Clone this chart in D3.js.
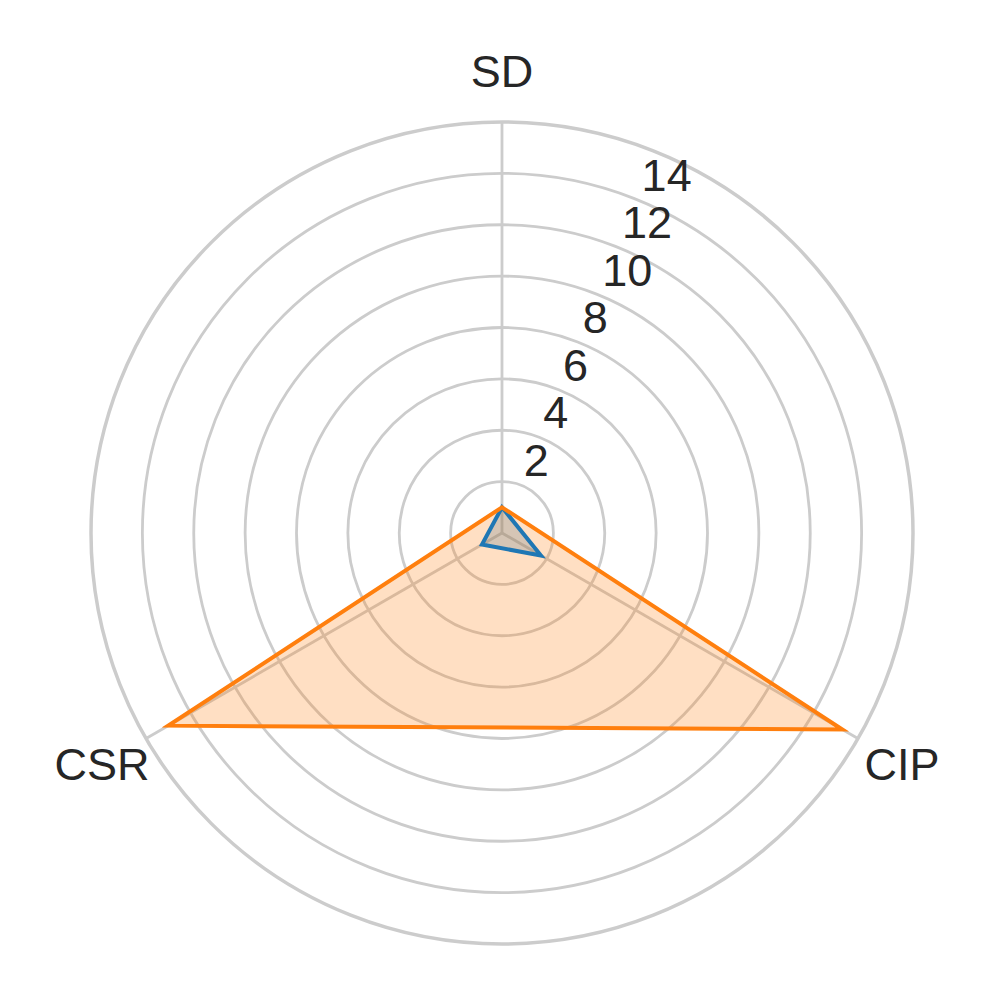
<!DOCTYPE html>
<html>
<head>
<meta charset="utf-8">
<script src="https://cdn.jsdelivr.net/npm/d3@7"></script>
<style>
  html, body { margin: 0; padding: 0; background: #fff; }
  svg { display: block; }
  text { font-family: "Liberation Sans", Arial, sans-serif; fill: #262626; }
</style>
</head>
<body>
<svg id="chart" width="996" height="996"></svg>
<script>
// radar chart: three axes, two series
const categories = ['SD', 'CIP', 'CSR'];
const seriesBlue = [1.0, 1.75, 0.9];
const seriesOrange = [1.0, 15.3, 15.0];
const ringTicks = [2, 4, 6, 8, 10, 12, 14];
const rMax = 16;

const cx = 502, cy = 533;
const outerR = 411;

const svg = d3.select('#chart');
const g = svg.append('g').attr('transform', `translate(${cx},${cy})`);

const r = d3.scaleLinear().domain([0, rMax]).range([0, outerR]);
// angle clockwise from 12 o'clock, like d3.lineRadial
const angleOf = (c) => categories.indexOf(c) * 2 * Math.PI / categories.length;

// rings
g.selectAll('.ring')
  .data(ringTicks)
  .join('circle')
  .attr('class', 'ring')
  .attr('r', (d) => r(d))
  .attr('fill', 'none')
  .attr('stroke', '#cccccc')
  .attr('stroke-width', 2.8);

// spokes
g.selectAll('.spoke')
  .data(categories)
  .join('line')
  .attr('class', 'spoke')
  .attr('x1', 0).attr('y1', 0)
  .attr('x2', (d) => r(rMax) * Math.sin(angleOf(d)))
  .attr('y2', (d) => -r(rMax) * Math.cos(angleOf(d)))
  .attr('stroke', '#cccccc')
  .attr('stroke-width', 2.8);

// outer frame
g.append('circle')
  .attr('r', r(rMax))
  .attr('fill', 'none')
  .attr('stroke', '#cccccc')
  .attr('stroke-width', 3.5);

// series
const line = d3.lineRadial()
  .angle((d, i) => angleOf(categories[i]))
  .radius((d) => r(d))
  .curve(d3.curveLinearClosed);

const series = [
  { values: seriesBlue, color: '#1f77b4' },
  { values: seriesOrange, color: '#ff7f0e' }
];

// fills first, outlines on top
series.forEach((s) => {
  g.append('path')
    .attr('d', line(s.values))
    .attr('fill', s.color)
    .attr('fill-opacity', 0.25)
    .attr('stroke', 'none');
});
series.forEach((s) => {
  g.append('path')
    .attr('d', line(s.values))
    .attr('fill', 'none')
    .attr('stroke', s.color)
    .attr('stroke-width', 4)
    .attr('stroke-linejoin', 'miter');
});

// radial tick labels at 22.5 deg
const labelAngle = 22.5 * Math.PI / 180;
g.selectAll('.rlabel')
  .data(ringTicks)
  .join('text')
  .attr('class', 'rlabel')
  .attr('x', (d) => r(d) * Math.sin(labelAngle) + 2)
  .attr('y', (d) => -r(d) * Math.cos(labelAngle) - 10)
  .attr('text-anchor', 'start')
  .attr('font-size', 45)
  .text((d) => d);

// category labels
const labelR = 462;
g.selectAll('.clabel')
  .data(categories)
  .join('text')
  .attr('class', 'clabel')
  .attr('x', (d) => labelR * Math.sin(angleOf(d)))
  .attr('y', (d) => -labelR * Math.cos(angleOf(d)) + 16)
  .attr('text-anchor', 'middle')
  .attr('font-size', 45)
  .text((d) => d);
</script>
</body>
</html>
